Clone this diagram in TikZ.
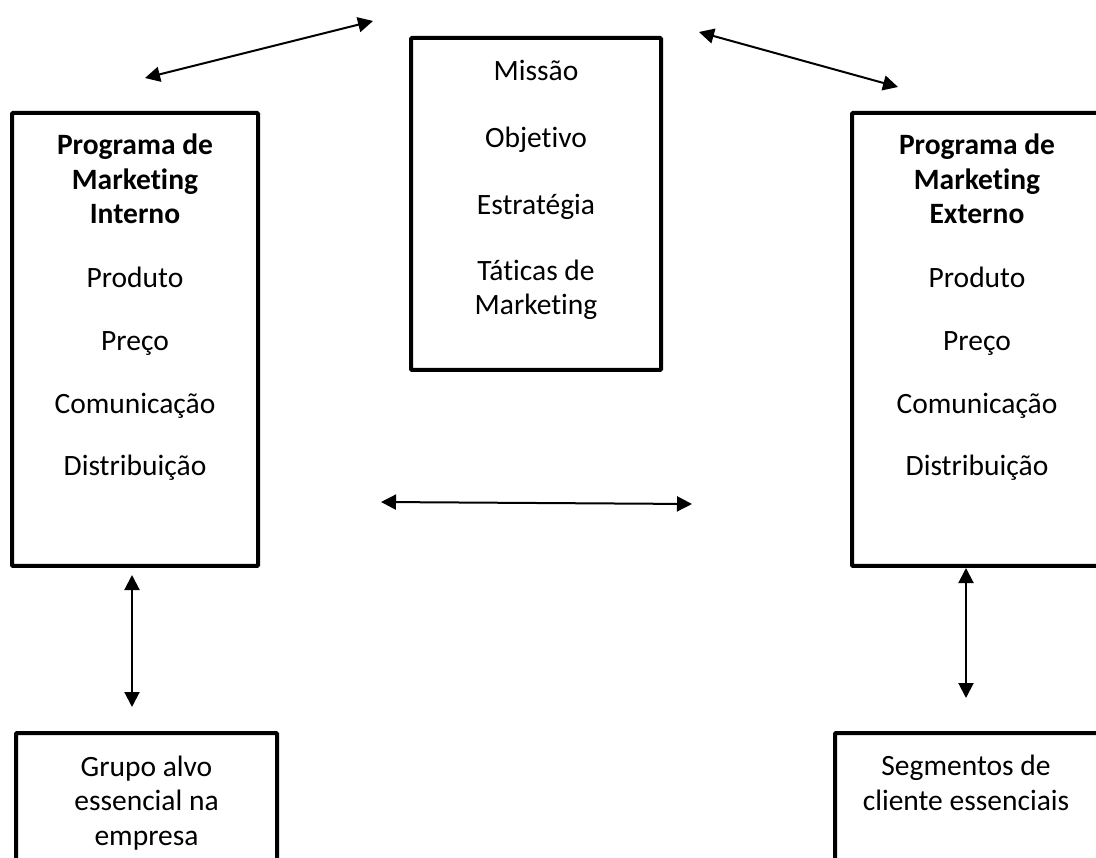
\documentclass[tikz,border=0pt]{standalone}
\usepackage{fontspec}
\setmainfont{Carlito}[Ligatures={NoCommon}]
\usetikzlibrary{arrows.meta}
\begin{document}
\begin{tikzpicture}[x=1pt,y=-1pt,
  box/.style={draw=black, line width=4pt, rounded corners=1pt, inner sep=0pt, outer sep=0pt},
  txt/.style={align=center, inner sep=0pt, anchor=base, font=\fontsize{29.5}{34.5}\selectfont},
  link/.style={line width=2pt, {Triangle[length=15pt,width=15pt]}-{Triangle[length=15pt,width=15pt]}, shorten <=0pt, shorten >=0pt}]
\useasboundingbox (0,0) rectangle (1096,858);
\clip (0,0) rectangle (1096,858);
% boxes
\node[box, minimum width=246pt, minimum height=453pt] (L) at (135,339.5) {};
\node[box, minimum width=250pt, minimum height=332pt] (C) at (536,204) {};
\node[box, minimum width=250pt, minimum height=453pt] (R) at (977,339.5) {};
\node[box, minimum width=261pt, minimum height=200pt] (BL) at (146.5,833) {};
\node[box, minimum width=264pt, minimum height=200pt] (BR) at (967,833) {};
% texts (anchored at the baseline of the last line)
\node[txt] (Lt) at (135,476) {\textbf{Programa de}\\\textbf{Marketing}\\\textbf{Interno}\\[30pt]Produto\\[28.5pt]Preço\\[28pt]Comunicação\\[28pt]Distribuição};
\node[txt] (Rt) at (977,476) {\textbf{Programa de}\\\textbf{Marketing}\\\textbf{Externo}\\[30pt]Produto\\[28.5pt]Preço\\[28pt]Comunicação\\[28pt]Distribuição};
\node[txt] (Ct) at (536,315) {Missão\\[32.5pt]Objetivo\\[32.5pt]Estratégia\\[31.5pt]Táticas de\\Marketing};
\node[txt] (BLt) at (146.5,845) {Grupo alvo\\essencial na\\empresa};
\node[txt] (BRt) at (966,810) {Segmentos de\\cliente essenciais};
% arrow end points
\coordinate (a1) at (145,78);
\coordinate (a2) at (373,21);
\coordinate (b1) at (699,32);
\coordinate (b2) at (898,87);
\coordinate (h1) at (381,502);
\coordinate (h2) at (692,504);
\coordinate (v1) at (132,575);
\coordinate (v2) at (132,707);
\coordinate (w1) at (966,568);
\coordinate (w2) at (966,698);
\draw[link] (a1) -- (a2);
\draw[link] (b1) -- (b2);
\draw[link] (h1) -- (h2);
\draw[link] (v1) -- (v2);
\draw[link] (w1) -- (w2);
\end{tikzpicture}
\end{document}
